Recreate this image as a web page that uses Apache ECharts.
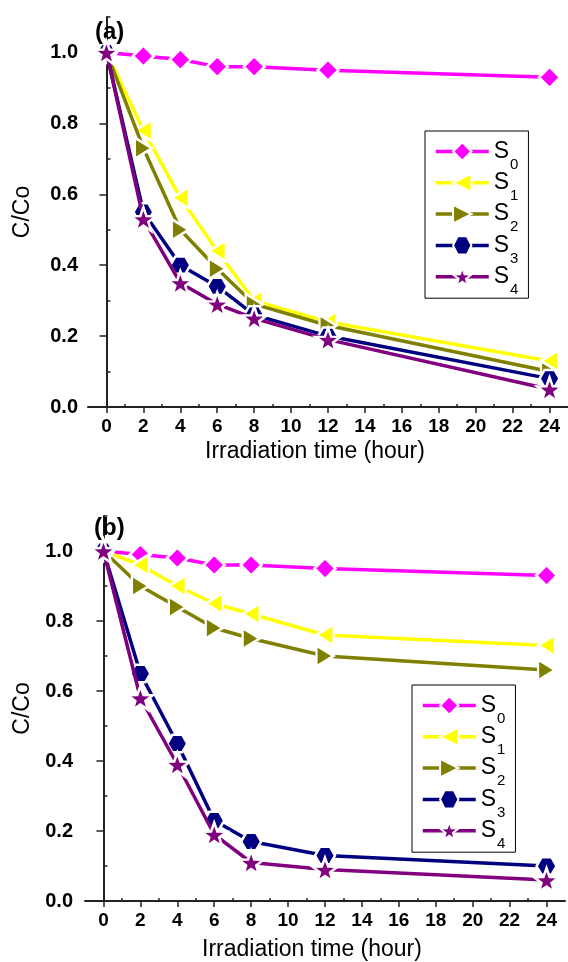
<!DOCTYPE html>
<html>
<head>
<meta charset="utf-8">
<script src="https://cdn.jsdelivr.net/npm/echarts@6/dist/echarts.min.js"></script>
<style>
  html, body { margin: 0; padding: 0; background: #fff; }
  #chart { width: 568px; height: 962px; }
</style>
</head>
<body>
<div id="chart"></div>
<script>
// irradiation times (hour)
const times = [0, 2, 4, 6, 8, 12, 24];
const seriesNames = ['S0', 'S1', 'S2', 'S3', 'S4'];

// panel (a)
const a_S0 = [1.0, 0.99, 0.98, 0.96, 0.96, 0.95, 0.93];
const a_S1 = [1.0, 0.78, 0.59, 0.44, 0.30, 0.24, 0.13];
const a_S2 = [1.0, 0.73, 0.50, 0.39, 0.29, 0.23, 0.10];
const a_S3 = [1.0, 0.55, 0.40, 0.34, 0.26, 0.20, 0.08];
const a_S4 = [1.0, 0.53, 0.35, 0.29, 0.25, 0.19, 0.05];

// panel (b)
const b_S0 = [1.0, 0.99, 0.98, 0.96, 0.96, 0.95, 0.93];
const b_S1 = [1.0, 0.96, 0.90, 0.85, 0.82, 0.76, 0.73];
const b_S2 = [1.0, 0.90, 0.84, 0.78, 0.75, 0.70, 0.66];
const b_S3 = [1.0, 0.65, 0.45, 0.23, 0.17, 0.13, 0.10];
const b_S4 = [1.0, 0.58, 0.39, 0.19, 0.11, 0.09, 0.06];

// tick values
const xMajorTicks = [0, 2, 4, 6, 8, 10, 12, 14, 16, 18, 20, 22, 24];
const xMinorTicks = [1, 3, 5, 7, 9, 11, 13, 15, 17, 19, 21, 23];
const yMajorTicks = [0, 0.2, 0.4, 0.6, 0.8, 1.0];
const yMinorTicks = [0.1, 0.3, 0.5, 0.7, 0.9, 1.1];

const FONT = 'Liberation Sans, Arial, sans-serif';
const colors = ['#ff00ff', '#ffff00', '#808000', '#000080', '#800080'];
const hexagon = 'path://M-1,0L-0.5,-0.866L0.5,-0.866L1,0L0.5,0.866L-0.5,0.866Z';
const star = 'path://M0,-1L0.235,-0.324L0.951,-0.309L0.38,0.124L0.588,0.809L0,0.4L-0.588,0.809L-0.38,0.124L-0.951,-0.309L-0.235,-0.324Z';
const symbols = ['diamond', 'triangle', 'triangle', hexagon, star];
const symbolRotates = [0, 90, -90, 0, 0];
const symbolSizes = [21, [21, 17], [21, 17], 20, 25];

const chart = echarts.init(document.getElementById('chart'));

const axisColor = '#222';

function xAxes(grid, nameGap) {
    return [
        {
            gridIndex: grid, type: 'value', min: -1, max: 25,
            axisLine: { lineStyle: { color: axisColor, width: 2 } },
            axisTick: { customValues: xMajorTicks, length: 6, lineStyle: { color: axisColor, width: 1.5 } },
            axisLabel: { customValues: xMajorTicks, color: '#000', fontFamily: FONT, fontWeight: 'bold', fontSize: 19, margin: 10 },
            splitLine: { show: false },
            name: 'Irradiation time (hour)', nameLocation: 'middle', nameGap: nameGap,
            nameTextStyle: { color: '#000', fontFamily: FONT, fontSize: 23, padding: [0, 26, 0, 0] }
        },
        {
            gridIndex: grid, type: 'value', min: -1, max: 25,
            axisLine: { show: false },
            axisTick: { customValues: xMinorTicks, length: 3, lineStyle: { color: axisColor, width: 1.5 } },
            axisLabel: { show: false },
            splitLine: { show: false }
        }
    ];
}

function yAxes(grid, nameGap, labelMargin) {
    return [
        {
            gridIndex: grid, type: 'value', min: 0, max: 1.1,
            axisLine: { show: true, lineStyle: { color: axisColor, width: 2 } },
            axisTick: { show: true, customValues: yMajorTicks, length: 7, lineStyle: { color: axisColor, width: 1.5 } },
            axisLabel: {
                customValues: yMajorTicks, color: '#000', fontFamily: FONT, fontWeight: 'bold', fontSize: 20, margin: labelMargin,
                formatter: v => v.toFixed(1)
            },
            splitLine: { show: false },
            name: 'C/Co', nameLocation: 'middle', nameGap: nameGap, nameRotate: 90,
            nameTextStyle: { color: '#000', fontFamily: FONT, fontSize: 23 }
        },
        {
            gridIndex: grid, type: 'value', min: 0, max: 1.1,
            axisLine: { show: false },
            axisTick: { show: true, customValues: yMinorTicks, length: 4, lineStyle: { color: axisColor, width: 1.5 } },
            axisLabel: { show: false },
            splitLine: { show: false }
        }
    ];
}

function makeSeries(valuesList, axisIdx) {
    return valuesList.map((vals, i) => ({
        name: seriesNames[i],
        type: 'line',
        xAxisIndex: axisIdx,
        yAxisIndex: axisIdx,
        data: times.map((t, j) => [t, vals[j]]),
        symbol: symbols[i],
        symbolSize: symbolSizes[i],
        symbolRotate: symbolRotates[i],
        symbolKeepAspect: true,
        lineStyle: { color: colors[i], width: 3.5 },
        itemStyle: { color: colors[i], borderColor: '#fff', borderWidth: 2.5 },
        z: 2 + i
    }));
}

function legend(left, top) {
    return {
        data: seriesNames,
        orient: 'vertical',
        left: left, top: top,
        itemWidth: 53, itemHeight: 23,
        itemGap: -9.7,
        padding: [0, 10, 1, 9],
        borderColor: '#000', borderWidth: 1,
        backgroundColor: '#fff',
        selectedMode: false,
        lineStyle: { width: 3.5 },
        formatter: name => '{s|S}{n|' + name.slice(1) + '}',
        textStyle: {
            rich: {
                s: { fontFamily: FONT, fontSize: 23, color: '#000', lineHeight: 22, verticalAlign: 'middle' },
                n: { fontFamily: FONT, fontSize: 15, color: '#000', lineHeight: 14, verticalAlign: 'middle', padding: [26, 0, 0, 1] }
            }
        }
    };
}

const option = {
    animation: false,
    backgroundColor: '#fff',
    title: [
        { text: '(a)', left: 90, top: 15, textStyle: { fontFamily: FONT, fontWeight: 'bold', fontSize: 24, color: '#000' } },
        { text: '(b)', left: 89, top: 511, textStyle: { fontFamily: FONT, fontWeight: 'bold', fontSize: 24, color: '#000' } }
    ],
    grid: [
        { left: 88, top: 17, width: 480, height: 390 },
        { left: 85, top: 516, width: 480, height: 387 }
    ],
    xAxis: [...xAxes(0, 33), ...xAxes(1, 37)],
    yAxis: [...yAxes(0, 54, 10), ...yAxes(1, 50, 12)],
    legend: [legend(425, 131), legend(412, 685)],
    series: [
        ...makeSeries([a_S0, a_S1, a_S2, a_S3, a_S4], 0),
        ...makeSeries([b_S0, b_S1, b_S2, b_S3, b_S4], 2)
    ]
};

chart.setOption(option);
</script>
</body>
</html>
